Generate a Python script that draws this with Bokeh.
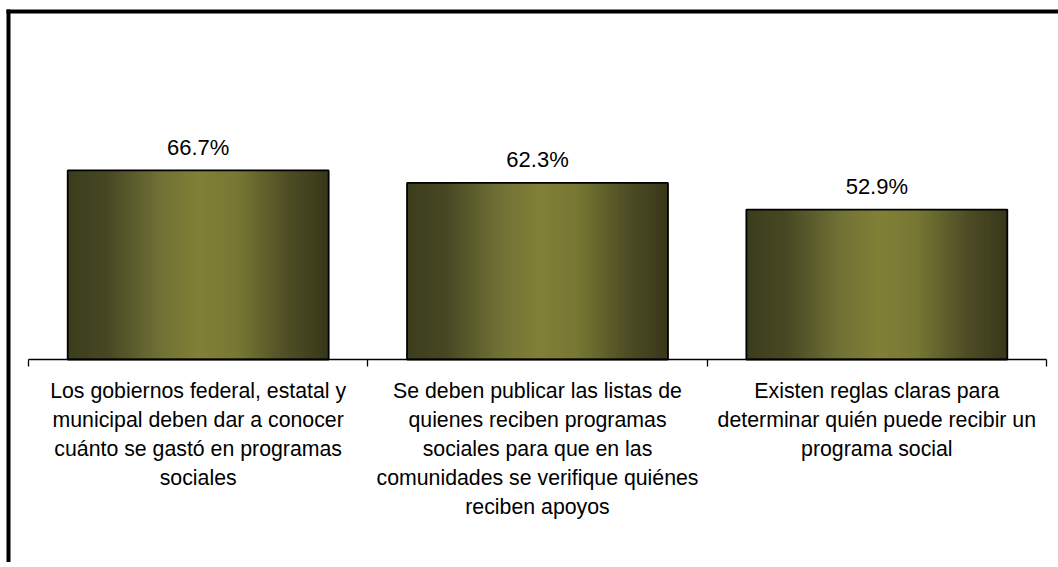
from bokeh.plotting import figure
from bokeh.models import (Range1d, LinearAxis, FixedTicker, BoxAnnotation,
                          ColumnDataSource)
from bokeh.core.properties import value
from bokeh.embed import file_html
from bokeh.resources import INLINE

# ---------------- data ----------------
categories = [
    "Los gobiernos federal, estatal y\nmunicipal deben dar a conocer\ncuánto se gastó en programas\nsociales",
    "Se deben publicar las listas de\nquienes reciben programas\nsociales para que en las\ncomunidades se verifique quiénes\nreciben apoyos",
    "Existen reglas claras para\ndeterminar quién puede recibir un\nprograma social",
]
values = [66.7, 62.3, 52.9]
value_labels = [f"{v:.1f}%" for v in values]

# ---------------- style ----------------
FONT = "Liberation Sans"
W, H = 1058, 562
BAR_W = 0.769
N_STRIPS = 90
GRAD_STOPS = [
    (0.00, (0x3c, 0x3d, 0x1c)),
    (0.15, (0x47, 0x48, 0x23)),
    (0.35, (0x6f, 0x70, 0x35)),
    (0.50, (0x81, 0x80, 0x37)),
    (0.65, (0x77, 0x78, 0x33)),
    (0.85, (0x4d, 0x4c, 0x25)),
    (1.00, (0x38, 0x38, 0x1a)),
]


def grad_color(t):
    for (t0, c0), (t1, c1) in zip(GRAD_STOPS[:-1], GRAD_STOPS[1:]):
        if t0 <= t <= t1:
            f = (t - t0) / (t1 - t0)
            c = [round(a + (b - a) * f) for a, b in zip(c0, c1)]
            return "#%02x%02x%02x" % tuple(c)
    return "#%02x%02x%02x" % GRAD_STOPS[-1][1]


n = len(categories)
centers = [i + 0.5 for i in range(n)]

p = figure(width=W, height=H, output_backend="svg", toolbar_location=None,
           x_axis_type=None, y_axis_type=None,
           x_range=Range1d(-0.08251, 3.03536), y_range=Range1d(-71.64, 126.68),
           min_border=0, min_border_left=0, min_border_right=0,
           min_border_top=0, min_border_bottom=0)
p.outline_line_color = None
p.background_fill_color = "white"
p.border_fill_color = "white"

# gradient bars as overlapping vertical strips
sl, sr, st, sc = [], [], [], []
sw = BAR_W / N_STRIPS
for c, v in zip(centers, values):
    x0 = c - BAR_W / 2
    for k in range(N_STRIPS):
        t = (k + 0.5) / N_STRIPS
        sl.append(x0 + k * sw)
        sr.append(min(x0 + (k + 2) * sw, c + BAR_W / 2))
        st.append(v)
        sc.append(grad_color(t))
p.quad(left=sl, right=sr, top=st, bottom=0, fill_color=sc, line_color=None)

# bar outlines
p.vbar(x=centers, top=values, bottom=0, width=BAR_W, fill_color=None,
       line_color="black", line_width=1.8)

# value labels
src = ColumnDataSource(dict(x=centers, y=values, t=value_labels))
p.text(x="x", y="y", text="t", source=src, text_align="center",
       text_baseline="alphabetic", y_offset=-23, text_font=value(FONT),
       text_font_size="22px", text_color="black")

# axis with ticks at category boundaries
tick_axis = LinearAxis(ticker=FixedTicker(ticks=list(range(n + 1))),
                       fixed_location=0, bounds=(0, n))
tick_axis.major_label_text_font_size = "0px"
tick_axis.major_label_overrides = {i: "" for i in range(n + 1)}
tick_axis.major_tick_out = 7
tick_axis.major_tick_in = 0
tick_axis.minor_tick_out = 0
tick_axis.minor_tick_in = 0
tick_axis.axis_line_color = "black"
tick_axis.axis_line_width = 1.3
tick_axis.major_tick_line_color = "black"
tick_axis.major_tick_line_width = 1.3
p.add_layout(tick_axis, "below")

# axis carrying category labels
lab_axis = LinearAxis(ticker=FixedTicker(ticks=centers), fixed_location=0)
lab_axis.major_label_overrides = {c: lab for c, lab in zip(centers, categories)}
lab_axis.major_tick_out = 0
lab_axis.major_tick_in = 0
lab_axis.minor_tick_out = 0
lab_axis.minor_tick_in = 0
lab_axis.axis_line_color = None
lab_axis.major_tick_line_color = None
lab_axis.major_label_standoff = 20
lab_axis.major_label_text_font = FONT
lab_axis.major_label_text_font_size = "21.3px"
lab_axis.major_label_text_color = "black"
lab_axis.major_label_text_align = "center"
lab_axis.major_label_text_line_height = 1.2
p.add_layout(lab_axis, "below")

# chart-area border: only its top and left edges are inside the picture
left_edge = BoxAnnotation(left=6, right=10, top=9, bottom=H,
                          left_units="canvas", right_units="canvas",
                          top_units="canvas", bottom_units="canvas",
                          fill_color="black", fill_alpha=1,
                          line_color=None, line_alpha=0, line_width=0)
top_edge = BoxAnnotation(left=6, right=W, top=9, bottom=13,
                         left_units="canvas", right_units="canvas",
                         top_units="canvas", bottom_units="canvas",
                         fill_color="black", fill_alpha=1,
                         line_color=None, line_alpha=0, line_width=0)
p.add_layout(left_edge)
p.add_layout(top_edge)

open("out.html", "w").write(file_html(p, INLINE))
